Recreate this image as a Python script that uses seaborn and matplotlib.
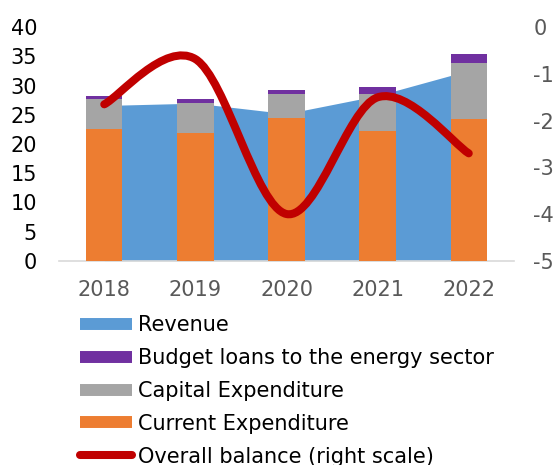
import numpy as np
import pandas as pd
import matplotlib
matplotlib.use("Agg")
import matplotlib.pyplot as plt
from matplotlib.path import Path
from matplotlib.patches import PathPatch
from matplotlib.lines import Line2D
import seaborn as sns

years = ["2018", "2019", "2020", "2021", "2022"]
revenue = [26.6, 27.0, 25.2, 28.3, 32.6]
current_exp = [22.6, 21.9, 24.5, 22.2, 24.3]
capital_exp = [5.1, 5.1, 4.1, 6.4, 9.6]
energy_loans = [0.5, 0.7, 0.7, 1.2, 1.5]
balance = [-1.65, -0.68, -4.0, -1.5, -2.7]

C_REV = "#5B9BD5"
C_CUR = "#ED7D31"
C_CAP = "#A5A5A5"
C_LOAN = "#7030A0"
C_BAL = "#C00000"

sns.set_style("white")
plt.rcParams["font.family"] = "sans-serif"
plt.rcParams["font.sans-serif"] = ["DejaVu Sans"]
plt.rcParams["axes.unicode_minus"] = False

W, H = 557, 465
fig = plt.figure(figsize=(W / 100, H / 100), dpi=100)
ax = fig.add_axes([58.7 / W, 1 - 260.7 / H, (514.3 - 58.7) / W, 233.4 / H])

df = pd.DataFrame({
    "year": years,
    "cur": current_exp,
    "cap": np.add(current_exp, capital_exp),
    "loan": np.add(np.add(current_exp, capital_exp), energy_loans),
})

xpos = np.arange(len(years))
ax.fill_between(xpos, 0, revenue, color=C_REV, lw=0, zorder=1)

sns.barplot(data=df, x="year", y="loan", color=C_LOAN, width=0.4, ax=ax,
            saturation=1, zorder=2, linewidth=0)
sns.barplot(data=df, x="year", y="cap", color=C_CAP, width=0.4, ax=ax,
            saturation=1, zorder=3, linewidth=0)
sns.barplot(data=df, x="year", y="cur", color=C_CUR, width=0.4, ax=ax,
            saturation=1, zorder=4, linewidth=0)

ax.set_xlim(-0.5, len(years) - 0.5)
ax.set_ylim(0, 40)
ax.set_yticks(range(0, 41, 5))
ax.set_xlabel("")
ax.set_ylabel("")
for s in ["top", "left", "right"]:
    ax.spines[s].set_visible(False)
ax.spines["bottom"].set_color("#D9D9D9")
ax.spines["bottom"].set_linewidth(1.2)
ax.tick_params(axis="y", length=0, pad=15.6, labelsize=15, labelcolor="#000000")
ax.tick_params(axis="x", length=0, pad=14.0, labelsize=15, labelcolor="#595959")
for t in ax.get_xticklabels() + ax.get_yticklabels():
    t.set_fontfamily("DejaVu Sans")

# right axis: overall balance, smoothed line (Excel-style Bezier)
ax2 = ax.twinx()
ax2.set_ylim(-5, 0)
ax2.set_yticks(range(-5, 1))
for s in ax2.spines.values():
    s.set_visible(False)
ax2.tick_params(axis="y", length=0, pad=13.7, labelsize=15, labelcolor="#595959")
for t in ax2.get_yticklabels():
    t.set_fontfamily("DejaVu Sans")

pts = np.column_stack([xpos, balance]).astype(float)
n = len(pts)
verts = [tuple(pts[0])]
codes = [Path.MOVETO]
for i in range(n - 1):
    p_prev = pts[i - 1] if i > 0 else pts[i]
    p0 = pts[i]
    p1 = pts[i + 1]
    p_next = pts[i + 2] if i + 2 < n else pts[i + 1]
    c1 = p0 + (p1 - p_prev) / 6.0
    c2 = p1 - (p_next - p0) / 6.0
    verts += [tuple(c1), tuple(c2), tuple(p1)]
    codes += [Path.CURVE4] * 3
patch = PathPatch(Path(verts, codes), facecolor="none", edgecolor=C_BAL,
                  lw=5.8, capstyle="round", joinstyle="round", zorder=5)
ax2.add_patch(patch)
ax2.set_zorder(ax.get_zorder() + 1)
ax2.patch.set_visible(False)

handles = [
    Line2D([], [], color=C_REV, lw=8.6, solid_capstyle="butt"),
    Line2D([], [], color=C_LOAN, lw=8.6, solid_capstyle="butt"),
    Line2D([], [], color=C_CAP, lw=8.6, solid_capstyle="butt"),
    Line2D([], [], color=C_CUR, lw=8.6, solid_capstyle="butt"),
    Line2D([], [], color=C_BAL, lw=5.8, solid_capstyle="round"),
]
labels = ["Revenue", "Budget loans to the energy sector", "Capital Expenditure",
          "Current Expenditure", "Overall balance (right scale)"]
leg = fig.legend(handles, labels, loc="upper left",
                 bbox_to_anchor=(80 / W, 1 - 315.2 / H),
                 frameon=False, handlelength=2.5,
                 prop={"family": "DejaVu Sans", "size": 15},
                 handletextpad=0.27, labelspacing=0.616, borderpad=0,
                 borderaxespad=0)
for t in leg.get_texts():
    t.set_color("#000000")

fig.savefig("out.png", dpi=100)
